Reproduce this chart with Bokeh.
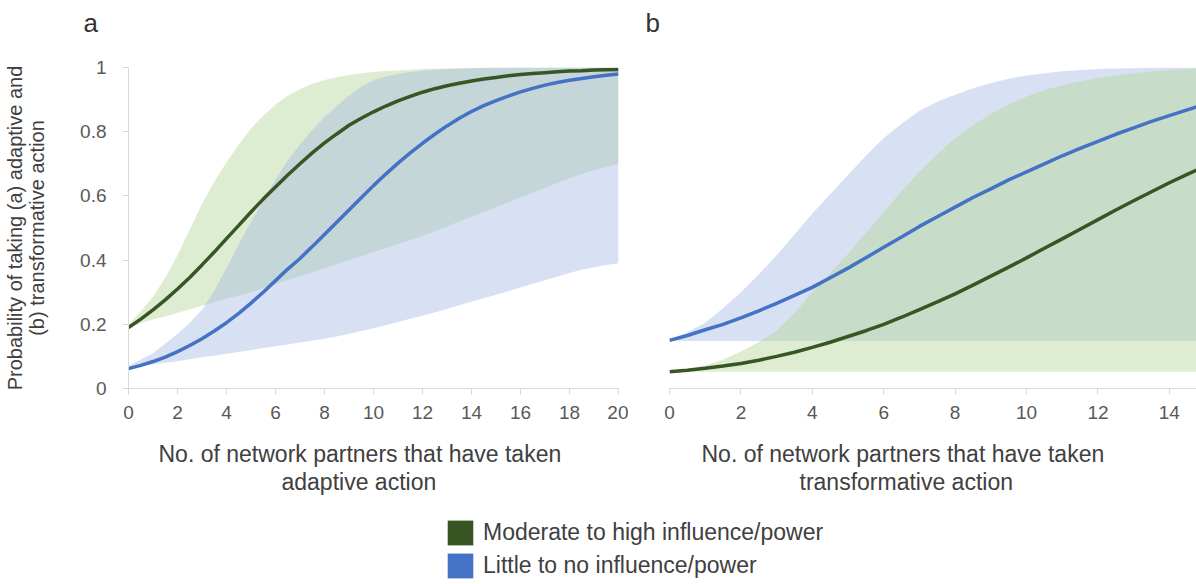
from bokeh.plotting import figure
from bokeh.layouts import column, row
from bokeh.models import Range1d, FixedTicker, Legend, LegendItem, Title
from bokeh.embed import file_html
from bokeh.resources import INLINE

# ---------------- data (every 0.5 unit) ----------------
# Panel a: adaptive action, x = 0, 0.5, ..., 20
x_a = [i / 2 for i in range(41)]
a_mod = [0.19, 0.216, 0.245, 0.276, 0.31, 0.346, 0.385, 0.425, 0.467, 0.508, 0.55,
         0.59, 0.628, 0.665, 0.70, 0.734, 0.765, 0.793, 0.82, 0.842, 0.862,
         0.88, 0.896, 0.91, 0.923, 0.934, 0.943, 0.951, 0.958, 0.964, 0.969,
         0.974, 0.978, 0.981, 0.984, 0.987, 0.989, 0.99, 0.992, 0.993, 0.994]
a_mod_lo = [0.19, 0.203, 0.215, 0.225, 0.235, 0.247, 0.258, 0.269, 0.28, 0.29, 0.30,
            0.313, 0.325, 0.338, 0.35, 0.362, 0.375, 0.387, 0.40, 0.412, 0.425,
            0.437, 0.45, 0.462, 0.475, 0.49, 0.505, 0.52, 0.535, 0.55, 0.565,
            0.58, 0.595, 0.61, 0.625, 0.64, 0.655, 0.668, 0.68, 0.69, 0.70]
a_mod_hi = [0.20, 0.24, 0.285, 0.345, 0.415, 0.495, 0.575, 0.645, 0.705, 0.76, 0.81,
            0.85, 0.885, 0.912, 0.933, 0.949, 0.961, 0.97, 0.977, 0.982, 0.986,
            0.989, 0.991, 0.993, 0.995, 0.996, 0.997, 0.998, 0.998, 0.999, 0.999,
            1.0, 1.0, 1.0, 1.0, 1.0, 1.0, 1.0, 1.0, 1.0, 1.0]
a_low = [0.062, 0.072, 0.084, 0.098, 0.115, 0.134, 0.155, 0.179, 0.205, 0.234, 0.266,
         0.30, 0.336, 0.372, 0.405, 0.442, 0.48, 0.518, 0.556, 0.594, 0.632,
         0.668, 0.702, 0.734, 0.764, 0.792, 0.818, 0.842, 0.863, 0.881, 0.897,
         0.911, 0.924, 0.935, 0.945, 0.953, 0.96, 0.966, 0.971, 0.976, 0.98]
a_low_lo = [0.065, 0.07, 0.075, 0.08, 0.085, 0.091, 0.097, 0.102, 0.108, 0.114, 0.12,
            0.126, 0.132, 0.137, 0.143, 0.149, 0.155, 0.162, 0.17, 0.179, 0.188,
            0.197, 0.207, 0.217, 0.227, 0.237, 0.248, 0.259, 0.27, 0.281, 0.292,
            0.303, 0.315, 0.326, 0.337, 0.348, 0.36, 0.37, 0.378, 0.385, 0.39]
a_low_hi = [0.07, 0.09, 0.11, 0.14, 0.17, 0.205, 0.245, 0.305, 0.375, 0.45, 0.52,
            0.585, 0.65, 0.71, 0.76, 0.805, 0.845, 0.88, 0.912, 0.94, 0.96,
            0.972, 0.98, 0.986, 0.99, 0.993, 0.995, 0.997, 0.998, 0.999, 1.0,
            1.0, 1.0, 1.0, 1.0, 1.0, 1.0, 1.0, 1.0, 1.0, 1.0]

# Panel b: transformative action, x = 0, 0.5, ..., 15
x_b = [i / 2 for i in range(31)]
b_mod = [0.052, 0.057, 0.063, 0.07, 0.078, 0.088, 0.10, 0.113, 0.128, 0.144, 0.162,
         0.18, 0.20, 0.222, 0.246, 0.27, 0.295, 0.322, 0.35, 0.378, 0.407,
         0.437, 0.466, 0.496, 0.526, 0.556, 0.585, 0.613, 0.641, 0.667, 0.692]
b_mod_lo = [0.052] * 31
b_mod_hi = [0.055, 0.06, 0.072, 0.09, 0.115, 0.145, 0.18, 0.235, 0.30, 0.36, 0.42,
            0.485, 0.55, 0.615, 0.675, 0.73, 0.78, 0.82, 0.855, 0.885, 0.91,
            0.93, 0.945, 0.957, 0.967, 0.975, 0.982, 0.988, 0.992, 0.995, 0.997]
b_low = [0.15, 0.165, 0.183, 0.20, 0.22, 0.242, 0.265, 0.29, 0.315, 0.345, 0.375,
         0.407, 0.44, 0.472, 0.505, 0.535, 0.565, 0.595, 0.622, 0.65, 0.675,
         0.70, 0.725, 0.748, 0.77, 0.792, 0.812, 0.832, 0.85, 0.868, 0.885]
b_low_lo = [0.148] * 31
b_low_hi = [0.15, 0.175, 0.205, 0.25, 0.30, 0.355, 0.415, 0.48, 0.545, 0.605, 0.665,
            0.725, 0.78, 0.825, 0.865, 0.893, 0.915, 0.935, 0.952, 0.965, 0.975,
            0.982, 0.988, 0.992, 0.995, 0.997, 0.998, 0.999, 1.0, 1.0, 1.0]

xticks_a = [0, 2, 4, 6, 8, 10, 12, 14, 16, 18, 20]
xticks_b = [0, 2, 4, 6, 8, 10, 12, 14]
yticks = [0, 0.2, 0.4, 0.6, 0.8, 1]
ytick_labels = ["0", "0.2", "0.4", "0.6", "0.8", "1"]

panel_tags = ["a", "b"]
series_names = ["Moderate to high influence/power", "Little to no influence/power"]
xlabel_a = ["No. of network partners that have taken", "adaptive action"]
xlabel_b = ["No. of network partners that have taken", "transformative action"]
ylabel = "Probability of taking (a) adaptive and\n(b) transformative action"

# ---------------- style ----------------
GREEN_LINE = "#375623"
BLUE_LINE = "#4472c4"
GREEN_FILL = "#b5d69a"
BLUE_FILL = "#9db4e0"
FONT = "Liberation Sans"
AX_COL = "#d9d9d9"
TOP = 67
BOTTOM = 115


def style_xaxis(p, ticks):
    ax = p.xaxis[0]
    ax.ticker = FixedTicker(ticks=ticks)
    ax.axis_line_color = AX_COL
    ax.major_tick_line_color = AX_COL
    ax.minor_tick_line_color = None
    ax.major_tick_out = 6
    ax.major_tick_in = 0
    ax.major_label_text_font = FONT
    ax.major_label_text_font_size = "19px"
    ax.major_label_text_color = "#595959"
    ax.major_label_standoff = 11


def add_xtitle(p, lines, offsets):
    # x-axis title as two left-aligned lines placed under the axis
    p.add_layout(Title(text=" ", text_font_size="1px", standoff=14), "below")
    for text, off in zip(lines, offsets):
        p.add_layout(Title(text=text, align="left", offset=off, standoff=0,
                           text_font=FONT, text_font_size="23px",
                           text_font_style="normal", text_color="#404040"), "below")


def add_tag(p, text, offset):
    # thin spacer title next to the frame, then the panel letter above it
    p.add_layout(Title(text=" ", text_font_size="1px", standoff=27), "above")
    p.add_layout(Title(text=text, align="left", offset=offset, standoff=0,
                       text_font=FONT, text_font_size="26px", text_font_style="normal",
                       text_color="#333333"), "above")


pa = figure(width=628, height=TOP + 321 + BOTTOM, x_range=Range1d(0, 20),
            y_range=Range1d(0, 1), output_backend="svg", toolbar_location=None,
            min_border_left=128, min_border_right=10, min_border_top=TOP,
            min_border_bottom=BOTTOM)
pb = figure(width=568, height=TOP + 321 + BOTTOM, x_range=Range1d(0, 14.76),
            y_range=Range1d(0, 1), output_backend="svg", toolbar_location=None,
            min_border_left=41, min_border_right=0, min_border_top=TOP,
            min_border_bottom=BOTTOM)

for p in (pa, pb):
    p.outline_line_color = None
    p.grid.visible = False

add_tag(pa, panel_tags[0], -45)
add_tag(pb, panel_tags[1], -24)

# panel a bands: green below, blue on top
pa.varea(x=x_a, y1=a_mod_lo, y2=a_mod_hi, fill_color=GREEN_FILL, fill_alpha=0.45)
pa.varea(x=x_a, y1=a_low_lo, y2=a_low_hi, fill_color=BLUE_FILL, fill_alpha=0.4)
pa.line(x_a, a_mod, line_color=GREEN_LINE, line_width=3.5)
pa.line(x_a, a_low, line_color=BLUE_LINE, line_width=3.5)

# panel b bands: blue below, green on top
pb.varea(x=x_b, y1=b_low_lo, y2=b_low_hi, fill_color=BLUE_FILL, fill_alpha=0.4)
pb.varea(x=x_b, y1=b_mod_lo, y2=b_mod_hi, fill_color=GREEN_FILL, fill_alpha=0.45)
pb.line(x_b, b_low, line_color=BLUE_LINE, line_width=3.5)
pb.line(x_b, b_mod, line_color=GREEN_LINE, line_width=3.5)

style_xaxis(pa, xticks_a)
style_xaxis(pb, xticks_b)
add_xtitle(pa, xlabel_a, [30, 153])
add_xtitle(pb, xlabel_b, [32, 130])

ya = pa.yaxis[0]
ya.ticker = FixedTicker(ticks=yticks)
ya.major_label_overrides = dict(zip(yticks, ytick_labels))
ya.axis_line_color = AX_COL
ya.major_tick_line_color = AX_COL
ya.minor_tick_line_color = None
ya.major_tick_out = 6
ya.major_tick_in = 0
ya.major_label_text_font = FONT
ya.major_label_text_font_size = "19px"
ya.major_label_text_color = "#595959"
ya.major_label_standoff = 16
ya.axis_label = ylabel
ya.axis_label_text_font = FONT
ya.axis_label_text_font_size = "20px"
ya.axis_label_text_font_style = "normal"
ya.axis_label_text_color = "#404040"
ya.axis_label_text_line_height = 1.0
ya.axis_label_standoff = 29

pb.yaxis.visible = False

# legend figure (swatch glyphs sit outside the visible range; only the legend shows)
LEG_H = 81
pl = figure(width=1196, height=LEG_H, x_range=Range1d(0, 1), y_range=Range1d(0, 1),
            output_backend="svg", toolbar_location=None, min_border=0,
            x_axis_location=None, y_axis_location=None)
pl.outline_line_color = None
pl.grid.visible = False
r1 = pl.quad(left=[5], right=[6], top=[6], bottom=[5], fill_color=GREEN_LINE, line_color=None)
r2 = pl.quad(left=[5], right=[6], top=[6], bottom=[5], fill_color=BLUE_LINE, line_color=None)
leg = Legend(items=[LegendItem(label=series_names[0], renderers=[r1]),
                    LegendItem(label=series_names[1], renderers=[r2])],
             location=(444, 3), orientation="vertical",
             glyph_width=32, glyph_height=31, spacing=2, padding=0, margin=0,
             label_standoff=7, label_text_font=FONT, label_text_font_size="23px",
             label_text_color="#404040", border_line_color=None,
             background_fill_alpha=0)
pl.add_layout(leg)

layout = column(row(pa, pb), pl)
open("out.html", "w").write(file_html(layout, INLINE))
